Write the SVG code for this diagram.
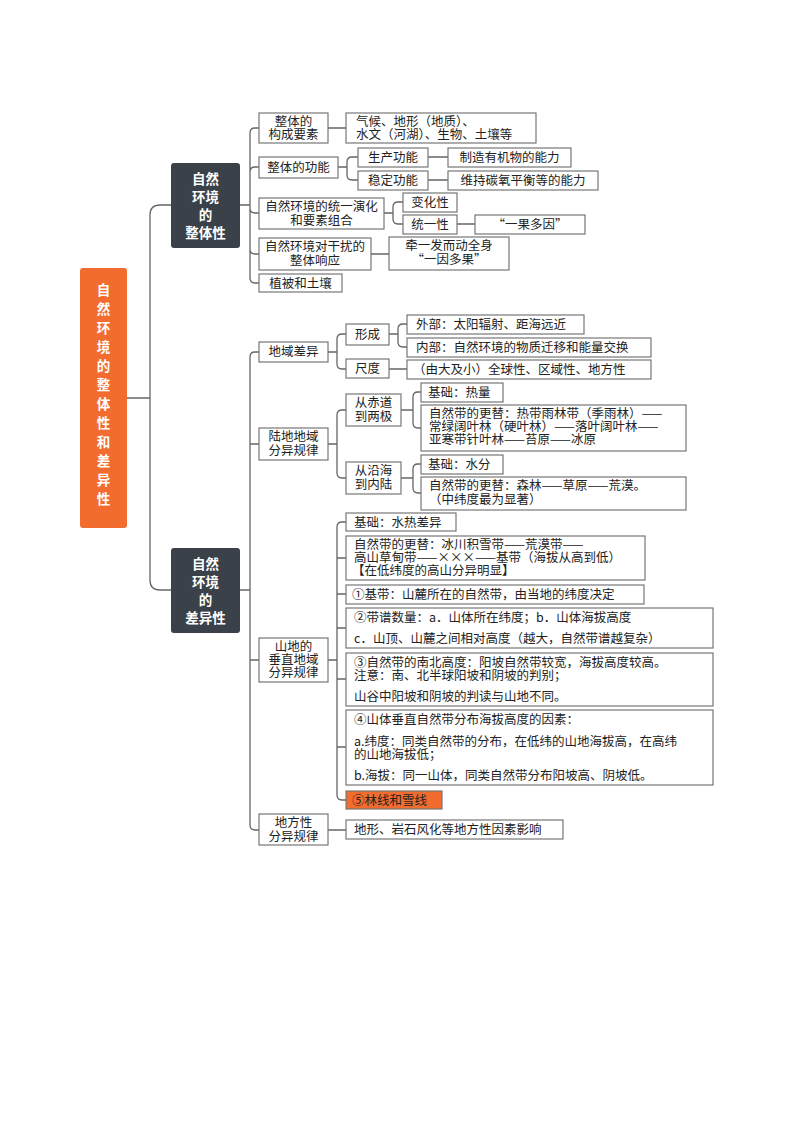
<svg xmlns="http://www.w3.org/2000/svg" width="794" height="1123" viewBox="0 0 794 1123">
<style>
text{font-family:"Noto Sans CJK SC","Liberation Sans",sans-serif;font-size:12.5px;fill:#222}
.c{text-anchor:middle}
.b{fill:#fff;stroke:#777;stroke-width:1.2}
.d{fill:#3a4149;stroke:none}
.w{fill:#fff;font-weight:bold;font-size:13.5px;text-anchor:middle}
.con path{fill:none;stroke:#666;stroke-width:1.3}
</style>
<rect width="794" height="1123" fill="#fff"/>
<g class="con">
<path d="M127 398 H150 V215 Q150 205 160 205 H171 M150 398 V580 Q150 590 160 590 H171"/>
<path d="M240 205 H250 M250 205 V133 Q250 128 255 128 H259 M250 205 V172 Q250 167 255 167 H259 M250 205 V208 Q250 213 255 213 H259 M250 205 V249 Q250 254 255 254 H259 M250 205 V278 Q250 283 255 283 H259"/>
<path d="M328 128 H346 M338 167 H347 V162 Q347 157 352 157 H358 M347 167 V175 Q347 180 352 180 H358 M428 157 H448 M428 180 H448"/>
<path d="M384 213 H393 V207 Q393 202 398 202 H403 M393 213 V219 Q393 224 398 224 H403 M457 224 H475 M371 254 H389"/>
<path d="M240 590 H250 M250 590 V357 Q250 352 255 352 H259 M250 444 H259 M250 660 H259 M250 590 V825 Q250 830 255 830 H259"/>
<path d="M328 352 H337 V339 Q337 334 342 334 H346 M337 352 V364 Q337 369 342 369 H346 M389 334 H398 V329 Q398 324 403 324 H407 M398 334 V342 Q398 347 403 347 H407 M389 369 H407"/>
<path d="M328 444 H337 V415 Q337 410 342 410 H346 M337 444 V473 Q337 478 342 478 H346 M401 410 H413 V397 Q413 392 418 392 H421 M413 410 V423 Q413 428 418 428 H421 M401 478 H413 V469 Q413 464 418 464 H421 M413 478 V488 Q413 493 418 493 H421"/>
<path d="M328 660 H337 M337 660 V527 Q337 522 342 522 H346 M337 558 H346 M337 594 H346 M337 628 H346 M337 679 H346 M337 747 H346 M337 660 V795 Q337 800 342 800 H346 M328 830 H346"/>
</g>
<g id="root"><rect x="80" y="268" width="47" height="260" rx="3" fill="#f26c2f"/>
<text class="w" font-size="15"><tspan x="103.5" y="295">自</tspan><tspan x="103.5" y="314">然</tspan><tspan x="103.5" y="333">环</tspan><tspan x="103.5" y="352">境</tspan><tspan x="103.5" y="371">的</tspan><tspan x="103.5" y="390">整</tspan><tspan x="103.5" y="409">体</tspan><tspan x="103.5" y="428">性</tspan><tspan x="103.5" y="447">和</tspan><tspan x="103.5" y="466">差</tspan><tspan x="103.5" y="485">异</tspan><tspan x="103.5" y="504">性</tspan></text></g>
<g id="n1"><rect class="d" x="171" y="163" width="69" height="85" rx="3"/><text class="w"><tspan x="205.5" y="184">自然</tspan><tspan x="205.5" y="202">环境</tspan><tspan x="205.5" y="220">的</tspan><tspan x="205.5" y="238">整体性</tspan></text></g>
<g id="n2"><rect class="d" x="171" y="548" width="69" height="85" rx="3"/><text class="w"><tspan x="205.5" y="569">自然</tspan><tspan x="205.5" y="587">环境</tspan><tspan x="205.5" y="605">的</tspan><tspan x="205.5" y="623">差异性</tspan></text></g>

<g id="a1"><rect class="b" x="259" y="113" width="69" height="30"/><text class="c"><tspan x="293.5" y="126">整体的</tspan><tspan x="293.5" y="139">构成要素</tspan></text></g>
<g id="a1c"><rect class="b" x="346" y="113" width="190" height="30"/><text><tspan x="356" y="126">气候、地形（地质）、</tspan><tspan x="356" y="139">水文（河湖）、生物、土壤等</tspan></text></g>
<g id="a2"><rect class="b" x="259" y="157" width="79" height="21"/><text x="298.5" y="172" class="c">整体的功能</text></g>
<g id="a21"><rect class="b" x="358" y="148" width="70" height="19"/><text x="393" y="162" class="c">生产功能</text></g>
<g id="a22"><rect class="b" x="358" y="171" width="70" height="19"/><text x="393" y="185" class="c">稳定功能</text></g>
<g id="a211"><rect class="b" x="448" y="148" width="123" height="19"/><text x="509.5" y="162" class="c">制造有机物的能力</text></g>
<g id="a221"><rect class="b" x="448" y="171" width="150" height="19"/><text x="523" y="185" class="c">维持碳氧平衡等的能力</text></g>
<g id="a3"><rect class="b" x="259" y="198" width="125" height="31"/><text class="c"><tspan x="321.5" y="211">自然环境的统一演化</tspan><tspan x="321.5" y="225">和要素组合</tspan></text></g>
<g id="a31"><rect class="b" x="403" y="193" width="54" height="19"/><text x="430" y="207" class="c">变化性</text></g>
<g id="a32"><rect class="b" x="403" y="215" width="54" height="19"/><text x="430" y="229" class="c">统一性</text></g>
<g id="a321"><rect class="b" x="475" y="215" width="110" height="19"/><text x="530" y="229" class="c">“一果多因”</text></g>
<g id="a4"><rect class="b" x="259" y="238" width="112" height="32"/><text class="c"><tspan x="315" y="251">自然环境对干扰的</tspan><tspan x="315" y="265">整体响应</tspan></text></g>
<g id="a41"><rect class="b" x="389" y="237" width="120" height="33"/><text class="c"><tspan x="449" y="250">牵一发而动全身</tspan><tspan x="449" y="264">“一因多果”</tspan></text></g>
<g id="a5"><rect class="b" x="259" y="274" width="83" height="18"/><text x="300.5" y="288" class="c">植被和土壤</text></g>

<g id="b1"><rect class="b" x="259" y="342" width="69" height="20"/><text x="293.5" y="356" class="c">地域差异</text></g>
<g id="b11"><rect class="b" x="346" y="324" width="43" height="21"/><text x="367.5" y="339" class="c">形成</text></g>
<g id="b12"><rect class="b" x="346" y="359" width="43" height="19"/><text x="367.5" y="373" class="c">尺度</text></g>
<g id="b111"><rect class="b" x="407" y="315" width="177" height="19"/><text x="416" y="329">外部：太阳辐射、距海远近</text></g>
<g id="b112"><rect class="b" x="407" y="338" width="244" height="19"/><text x="416" y="352">内部：自然环境的物质迁移和能量交换</text></g>
<g id="b121"><rect class="b" x="407" y="360" width="244" height="19"/><text x="413" y="374">（由大及小）全球性、区域性、地方性</text></g>
<g id="b2"><rect class="b" x="259" y="428" width="69" height="32"/><text class="c"><tspan x="293.5" y="441">陆地地域</tspan><tspan x="293.5" y="455">分异规律</tspan></text></g>
<g id="b21"><rect class="b" x="346" y="394" width="55" height="32"/><text class="c"><tspan x="373.5" y="407">从赤道</tspan><tspan x="373.5" y="421">到两极</tspan></text></g>
<g id="b22"><rect class="b" x="346" y="462" width="55" height="32"/><text class="c"><tspan x="373.5" y="475">从沿海</tspan><tspan x="373.5" y="489">到内陆</tspan></text></g>
<g id="b211"><rect class="b" x="421" y="383" width="82" height="19"/><text x="428" y="397">基础：热量</text></g>
<g id="b212"><rect class="b" x="421" y="405" width="265" height="46"/><text><tspan x="429" y="418">自然带的更替：热带雨林带（季雨林）——</tspan><tspan x="429" y="431">常绿阔叶林（硬叶林）——落叶阔叶林——</tspan><tspan x="429" y="444">亚寒带针叶林——苔原——冰原</tspan></text></g>
<g id="b221"><rect class="b" x="421" y="455" width="82" height="19"/><text x="428" y="469">基础：水分</text></g>
<g id="b222"><rect class="b" x="421" y="477" width="265" height="33"/><text><tspan x="429" y="490">自然带的更替：森林——草原——荒漠。</tspan><tspan x="429" y="504">（中纬度最为显著）</tspan></text></g>

<g id="b3"><rect class="b" x="259" y="638" width="69" height="44"/><text class="c"><tspan x="293.5" y="651">山地的</tspan><tspan x="293.5" y="664">垂直地域</tspan><tspan x="293.5" y="677">分异规律</tspan></text></g>
<g id="b31"><rect class="b" x="346" y="513" width="110" height="18"/><text x="354" y="527">基础：水热差异</text></g>
<g id="b32"><rect class="b" x="346" y="536" width="299" height="44"/><text><tspan x="354" y="549">自然带的更替：冰川积雪带——荒漠带——</tspan><tspan x="354" y="562">高山草甸带——×××——基带（海拔从高到低）</tspan><tspan x="352" y="575">【在低纬度的高山分异明显】</tspan></text></g>
<g id="b33"><rect class="b" x="346" y="585" width="298" height="19"/><text x="352" y="599">①基带：山麓所在的自然带，由当地的纬度决定</text></g>
<g id="b34"><rect class="b" x="346" y="608" width="367" height="40"/><text><tspan x="354" y="622">②带谱数量：a．山体所在纬度；b．山体海拔高度</tspan><tspan x="354" y="643">c．山顶、山麓之间相对高度（越大，自然带谱越复杂）</tspan></text></g>
<g id="b35"><rect class="b" x="346" y="653" width="367" height="53"/><text><tspan x="354" y="667">③自然带的南北高度：阳坡自然带较宽，海拔高度较高。</tspan><tspan x="354" y="680">注意：南、北半球阳坡和阴坡的判别；</tspan><tspan x="354" y="701">山谷中阳坡和阴坡的判读与山地不同。</tspan></text></g>
<g id="b36"><rect class="b" x="346" y="710" width="367" height="75"/><text><tspan x="354" y="724">④山体垂直自然带分布海拔高度的因素：</tspan><tspan x="354" y="746">a.纬度：同类自然带的分布，在低纬的山地海拔高，在高纬</tspan><tspan x="354" y="759">的山地海拔低；</tspan><tspan x="354" y="780">b.海拔：同一山体，同类自然带分布阳坡高、阴坡低。</tspan></text></g>
<g id="b37"><rect x="346" y="791" width="96" height="18" fill="#f26c2f" stroke="#777" stroke-width="1.2"/><text x="352" y="805">⑤林线和雪线</text></g>
<g id="b4"><rect class="b" x="259" y="814" width="69" height="31"/><text class="c"><tspan x="293.5" y="827">地方性</tspan><tspan x="293.5" y="841">分异规律</tspan></text></g>
<g id="b41"><rect class="b" x="346" y="820" width="217" height="19"/><text x="354" y="834">地形、岩石风化等地方性因素影响</text></g>
</svg>
